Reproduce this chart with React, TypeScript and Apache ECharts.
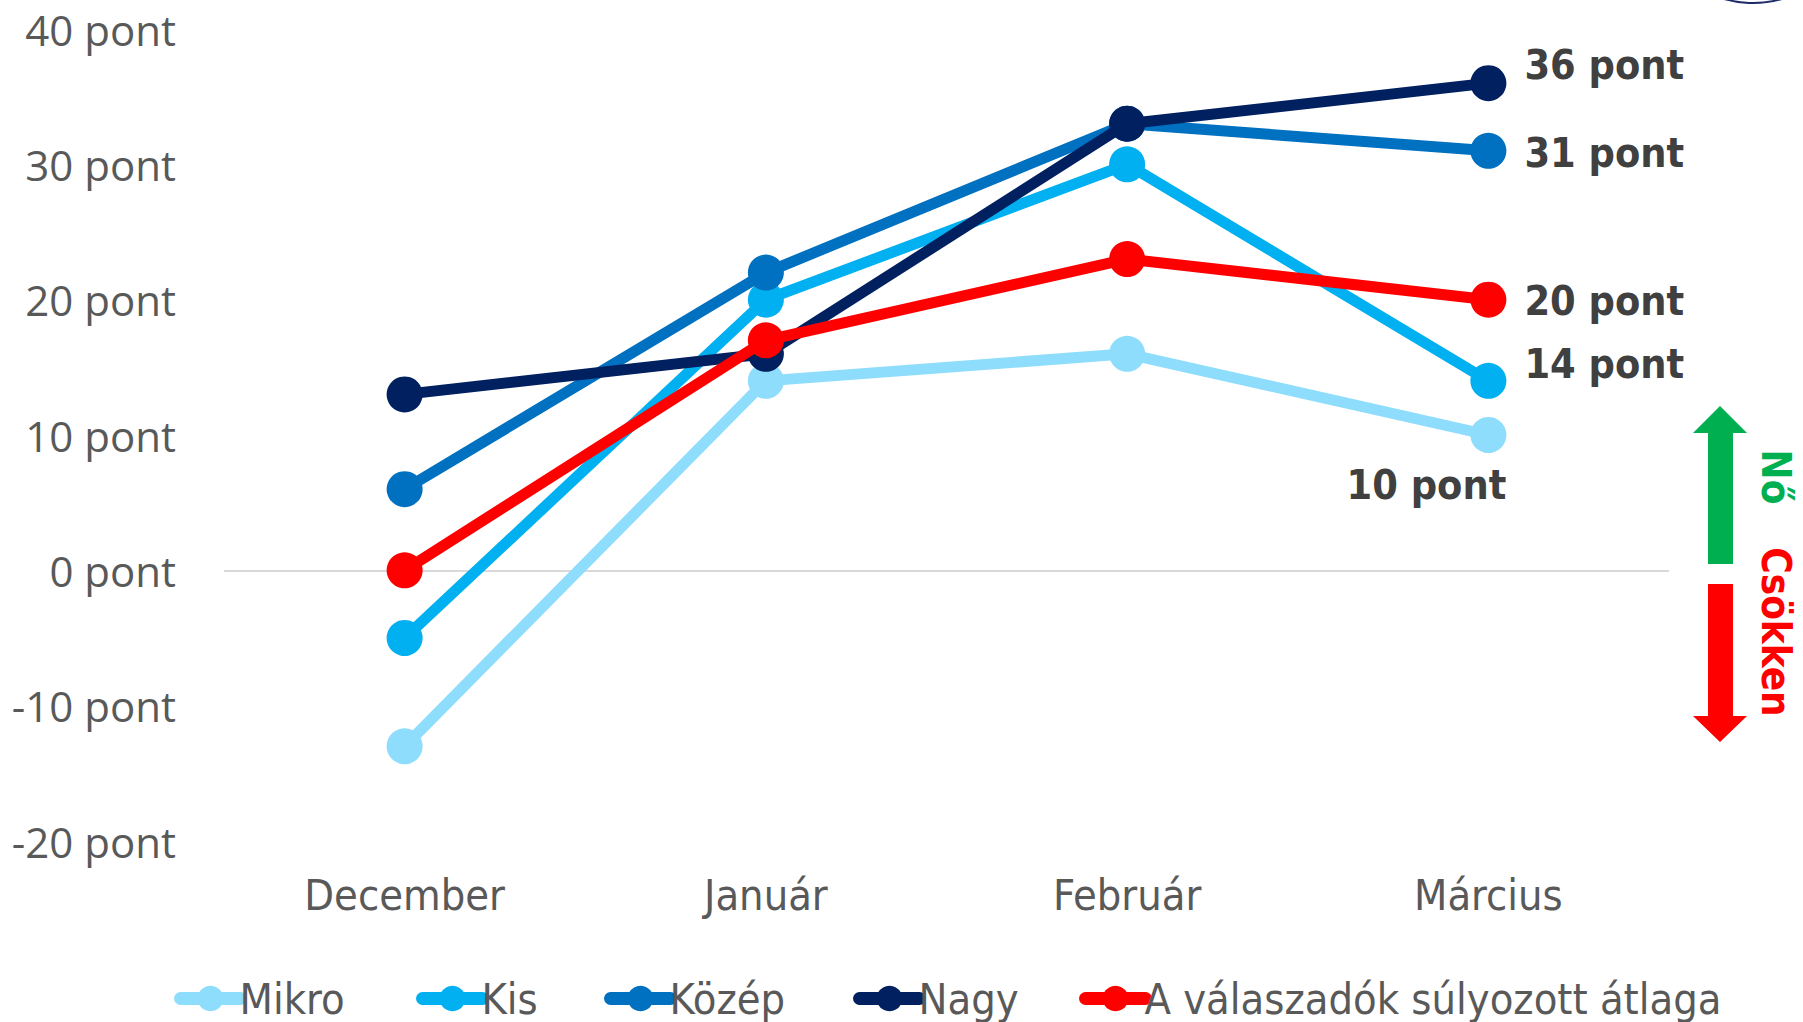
import React, { useEffect, useRef } from "react";
import * as echarts from "echarts";

const categories = ["December", "Január", "Február", "Március"];
const seriesNames = ["Mikro", "Kis", "Közép", "Nagy", "A válaszadók súlyozott átlaga"];
const mikro = [-13, 14, 16, 10];
const kis = [-5, 20, 30, 14];
const kozep = [6, 22, 33, 31];
const nagy = [13, 16, 33, 36];
const atlag = [0, 17, 23, 20];
const colors = ["#8fddfc", "#00b0f0", "#0070c0", "#002060", "#ff0000"];
const yMin = -20;
const yMax = 40;
const yInterval = 10;
const unit = "pont";
const upText = "Nő";
const downText = "Csökken";

const NARROW = "'Liberation Sans Narrow', 'DejaVu Sans Condensed', 'Arial Narrow', sans-serif";

const lastLabel: Array<{ pos: string; offset: number[] }> = [
  { pos: "inside", offset: [-62, 50] },
  { pos: "right", offset: [0, -17] },
  { pos: "right", offset: [0, 2] },
  { pos: "right", offset: [0, -18] },
  { pos: "right", offset: [0, 1] },
];

export default function App() {
  const ref = useRef<HTMLDivElement>(null);
  useEffect(() => {
    document.body.style.margin = "0";
    if (!ref.current) return;
    const chart = echarts.init(ref.current, undefined, { renderer: "svg" });
    const allData = [mikro, kis, kozep, nagy, atlag];
    const series: any[] = allData.map((vals, i) => {
      const data = vals.map((v, j) => {
        if (j !== vals.length - 1) return v;
        const l = lastLabel[i];
        return {
          value: v,
          label: {
            show: true,
            position: l.pos,
            distance: 18,
            offset: l.offset,
            formatter: (p: any) => `${p.value} ${unit}`,
            fontFamily: NARROW,
            fontWeight: "bold",
            fontSize: 41,
            color: "#404040",
          },
        };
      });
      const s: any = {
        name: seriesNames[i],
        type: "line",
        data,
        symbol: "circle",
        symbolSize: 36,
        lineStyle: { width: 11, color: colors[i] },
        itemStyle: { color: colors[i] },
        z: 2 + i,
      };
      if (i === 0) {
        s.markLine = {
          silent: true,
          symbol: "none",
          label: { show: false },
          lineStyle: { color: "#d9d9d9", width: 2, type: "solid" },
          data: [{ yAxis: 0 }],
          z: 1,
        };
      }
      return s;
    });

    const legendLefts = [169, 411, 599, 848, 1074];
    const legends = seriesNames.map((n, i) => ({
      data: [n],
      left: legendLefts[i],
      top: 972,
      itemWidth: 60,
      itemHeight: 32,
      itemGap: 0,
      lineStyle: { width: 13, cap: "round" },
      textStyle: { fontFamily: NARROW, fontSize: 43, color: "#595959", padding: [0, 0, 0, -6] },
      selectedMode: false,
    }));

    chart.setOption({
      animation: false,
      backgroundColor: "#ffffff",
      grid: { left: 224, right: 134, top: 29, bottom: 181, containLabel: false },
      legend: legends,
      xAxis: {
        type: "category",
        data: categories,
        boundaryGap: true,
        axisLine: { show: false },
        axisTick: { show: false },
        axisLabel: {
          margin: 32,
          fontFamily: NARROW,
          fontSize: 43,
          color: "#595959",
        },
        splitLine: { show: false },
      },
      yAxis: {
        type: "value",
        min: yMin,
        max: yMax,
        interval: yInterval,
        axisLine: { show: false },
        axisTick: { show: false },
        splitLine: { show: false },
        axisLabel: {
          margin: 48,
          formatter: (v: number) => `${v} ${unit}`,
          fontFamily: "'Open Sans', sans-serif",
          fontSize: 42,
          color: "#595959",
        },
      },
      series,
      graphic: [
        {
          type: "circle",
          shape: { cx: 1753, cy: -103, r: 106 },
          style: { fill: "#ffffff", stroke: "#1f2a6b", lineWidth: 2 },
          silent: true,
        },
        {
          type: "polygon",
          shape: {
            points: [
              [1720, 406],
              [1747, 433],
              [1733, 433],
              [1733, 564],
              [1708, 564],
              [1708, 433],
              [1693, 433],
            ],
          },
          style: { fill: "#00b050" },
          silent: true,
        },
        {
          type: "polygon",
          shape: {
            points: [
              [1708, 584],
              [1733, 584],
              [1733, 716],
              [1747, 716],
              [1720, 742],
              [1693, 716],
              [1708, 716],
            ],
          },
          style: { fill: "#ff0000" },
          silent: true,
        },
        {
          type: "text",
          x: 1776,
          y: 477,
          rotation: -Math.PI / 2,
          style: {
            text: upText,
            fill: "#00b050",
            fontFamily: NARROW,
            fontWeight: "bold",
            fontSize: 40,
            align: "center",
            verticalAlign: "middle",
          },
          silent: true,
        },
        {
          type: "text",
          x: 1776,
          y: 632,
          rotation: -Math.PI / 2,
          style: {
            text: downText,
            fill: "#ff0000",
            fontFamily: NARROW,
            fontWeight: "bold",
            fontSize: 40,
            align: "center",
            verticalAlign: "middle",
          },
          silent: true,
        },
      ],
    });
    return () => chart.dispose();
  }, []);
  return <div ref={ref} style={{ width: 1803, height: 1022 }} />;
}
